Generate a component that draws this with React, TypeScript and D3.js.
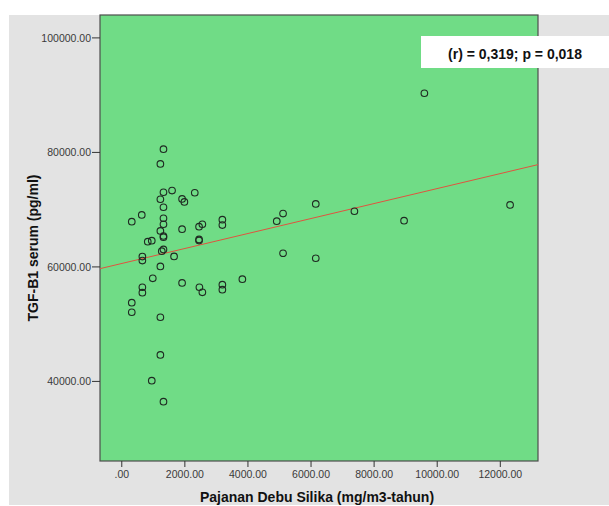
import React from "react";
import * as d3 from "d3";

// exposure (mg/m3-years) vs TGF-B1 serum (pg/ml)
const exposure = [
  1322, 1224, 1594, 1322, 2314, 1224, 1912, 1985, 1322, 634, 317, 1322, 1322, 1224,
  1912, 2450, 2555, 1322, 1322, 824, 951, 2450, 2450, 1322, 1268, 1658, 653, 653,
  1224, 983, 1912, 2461, 2555, 3189, 3189, 3823, 653, 653, 317, 317, 1224, 1224,
  951, 1322, 6150, 5113, 4913, 7375, 3189, 3189, 5113, 6150, 9593, 12310, 8949,
];
const tgf = [
  80560, 77990, 73330, 73040, 72950, 71820, 71870, 71350, 70420, 69080, 67910, 68500,
  67450, 66280, 66600, 67030, 67450, 65400, 65200, 64410, 64590, 64800, 64600, 63050,
  62750, 61830, 61800, 61100, 60080, 58000, 57200, 56450, 55570, 56900, 56030, 57850,
  56450, 55500, 53760, 52080, 51210, 44620, 40130, 36460, 71000, 69310, 67980, 69720,
  68250, 67300, 62390, 61510, 90330, 70820, 68080,
];

const xTicks = [0, 2000, 4000, 6000, 8000, 10000, 12000];
const yTicks = [40000, 60000, 80000, 100000];

// fit line: intercept, slope
const fitIntercept = 60600;
const fitSlope = 1.3086;

const annotation = "(r) = 0,319; p = 0,018";
const xTitle = "Pajanan Debu Silika (mg/m3-tahun)";
const yTitle = "TGF-B1 serum (pg/ml)";

const W = 609;
const H = 506;
const plot = { left: 100, top: 15, right: 538, bottom: 461 };

const fmt = (v: number) => (v === 0 ? ".00" : v.toFixed(2));

export default function App() {
  const x = d3.scaleLinear().domain([-690, 13195]).range([plot.left, plot.right]);
  const y = d3.scaleLinear().domain([26100, 104000]).range([plot.bottom, plot.top]);

  const fitLine = d3
    .line<number>()
    .x(d => x(d))
    .y(d => y(fitIntercept + fitSlope * d));

  const font = "'Liberation Sans', Arial, sans-serif";

  return (
    <svg
      width={W}
      height={H}
      style={{ position: "absolute", left: 0, top: 0, fontFamily: font }}
    >
      <rect x={0} y={0} width={W} height={H} fill="#ffffff" />
      <rect x={9} y={15} width={W - 9} height={490} fill="#e3e3e3" />
      <rect
        x={plot.left}
        y={plot.top}
        width={plot.right - plot.left}
        height={plot.bottom - plot.top}
        fill="#70dc86"
        stroke="#4d4d4d"
        strokeWidth={1.2}
      />

      {yTicks.map(t => (
        <g key={t} transform={`translate(0,${y(t)})`}>
          <line x1={plot.left - 8} x2={plot.left} stroke="#333" />
          <text x={plot.left - 9} dy="0.35em" textAnchor="end" fontSize={10.5} fill="#3a3a3a">
            {fmt(t)}
          </text>
        </g>
      ))}

      {xTicks.map(t => (
        <g key={t} transform={`translate(${x(t)},0)`}>
          <line y1={plot.bottom} y2={plot.bottom + 6} stroke="#333" />
          <text y={478} textAnchor="middle" fontSize={10.5} fill="#3a3a3a">
            {fmt(t)}
          </text>
        </g>
      ))}

      <path
        d={fitLine(x.domain()) || ""}
        fill="none"
        stroke="#e0533f"
        strokeWidth={1}
      />

      {exposure.map((v, i) => (
        <circle
          key={i}
          cx={x(v)}
          cy={y(tgf[i])}
          r={3.3}
          fill="none"
          stroke="#1f2a22"
          strokeWidth={1.1}
        />
      ))}

      <rect x={421} y={36} width={W - 421} height={32} fill="#ffffff" />
      <text x={515} y={59} textAnchor="middle" fontSize={14} fontWeight="bold" fill="#111">
        {annotation}
      </text>

      <text x={317} y={502} textAnchor="middle" fontSize={14} fontWeight="bold" fill="#111">
        {xTitle}
      </text>
      <text
        transform="translate(38,248) rotate(-90)"
        textAnchor="middle"
        fontSize={14}
        fontWeight="bold"
        fill="#111"
      >
        {yTitle}
      </text>
    </svg>
  );
}
